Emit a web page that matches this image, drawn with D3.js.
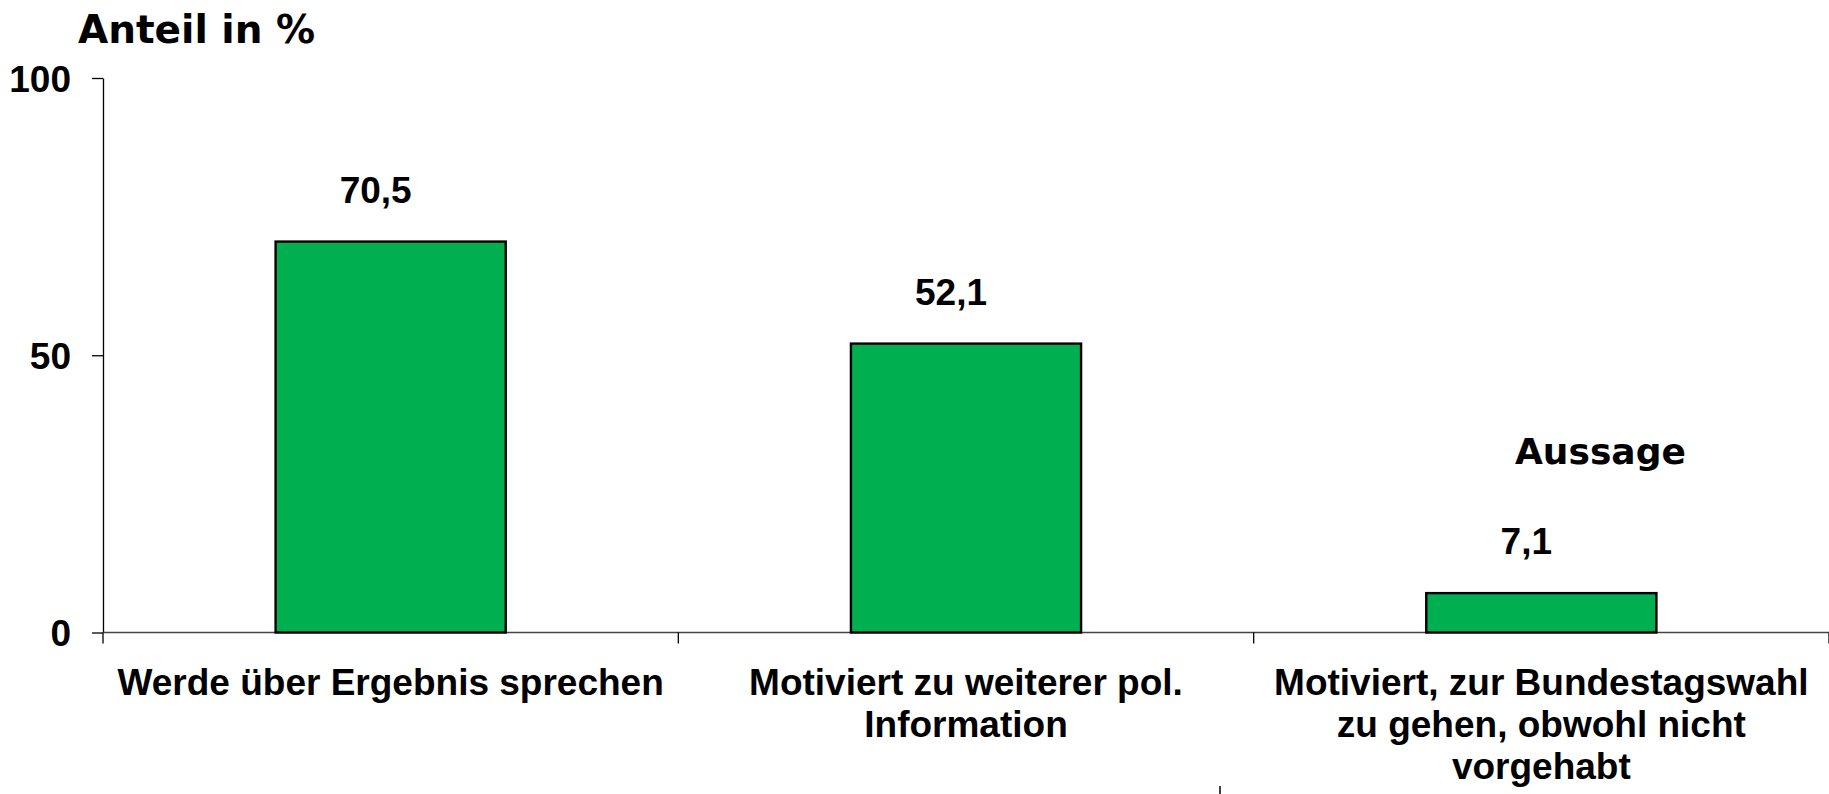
<!DOCTYPE html>
<html>
<head>
<meta charset="utf-8">
<script src="https://cdn.jsdelivr.net/npm/d3@7"></script>
<style>
  html, body { margin: 0; padding: 0; background: #fff; }
  svg { display: block; }
  .lbl { font-family: "Liberation Sans", Arial, sans-serif; font-weight: bold; fill: #000; }
  .ttl { font-family: "DejaVu Sans", Verdana, sans-serif; font-weight: bold; fill: #000; }
</style>
</head>
<body>
<script>
const categories = [
  "Werde über Ergebnis sprechen",
  "Motiviert zu weiterer pol. Information",
  "Motiviert, zur Bundestagswahl zu gehen, obwohl nicht vorgehabt"
];
const values = [70.5, 52.1, 7.1];
const valueLabels = ["70,5", "52,1", "7,1"];
const yTicks = [0, 50, 100];
const yTitle = "Anteil in %";
const xTitle = "Aussage";

const W = 1829, H = 794;
const mLeft = 103, mRight = 1829, mTop = 78, mBottom = 632.5;

const svg = d3.select("body").append("svg").attr("width", W).attr("height", H);

const y = d3.scaleLinear().domain([0, 100]).range([mBottom, mTop]);
const xOuter = d3.scaleBand().domain(categories).range([mLeft, mRight]).padding(0);
const xBar = d3.scaleBand().domain(categories).range([mLeft, mRight]).paddingInner(0.6).paddingOuter(0.3);

// y axis
const yAxis = svg.append("g").attr("transform", `translate(${mLeft},0)`)
  .call(d3.axisLeft(y).tickValues(yTicks).tickSize(11).tickSizeOuter(0).tickPadding(21).tickFormat(d3.format("d")));
yAxis.select(".domain").attr("stroke", "#000").attr("stroke-width", 1.3);
yAxis.selectAll(".tick line").attr("stroke", "#000").attr("stroke-width", 1.3);
yAxis.selectAll(".tick text").attr("class", "lbl").style("font-size", "37px").attr("dy", "0.36em");

// x axis line
svg.append("line").attr("x1", mLeft).attr("x2", mRight).attr("y1", y(0)).attr("y2", y(0))
  .attr("stroke", "#444").attr("stroke-width", 1.6);
// category boundary ticks
const bounds = categories.map(c => xOuter(c)).concat([xOuter(categories[categories.length - 1]) + xOuter.bandwidth()]);
svg.selectAll("line.bt").data(bounds).join("line").attr("class", "bt")
  .attr("x1", d => d).attr("x2", d => d).attr("y1", y(0)).attr("y2", y(0) + 11)
  .attr("stroke", "#000").attr("stroke-width", 1.3);

// bars
svg.selectAll("rect.bar").data(values).join("rect").attr("class", "bar")
  .attr("x", (d, i) => xBar(categories[i]))
  .attr("width", xBar.bandwidth())
  .attr("y", d => y(d))
  .attr("height", d => y(0) - y(d))
  .attr("fill", "#00AF50").attr("stroke", "#000").attr("stroke-width", 2.4);

// value labels
svg.selectAll("text.val").data(values).join("text").attr("class", "lbl val")
  .attr("x", (d, i) => xBar(categories[i]) + xBar.bandwidth() / 2)
  .attr("dx", -15)
  .attr("y", d => y(d) - 39)
  .attr("text-anchor", "middle").style("font-size", "37px")
  .text((d, i) => valueLabels[i]);

// category labels with wrapping
function wrapLines(text, width, size) {
  const ctx = document.createElement("canvas").getContext("2d");
  ctx.font = `bold ${size}px "Liberation Sans", Arial, sans-serif`;
  const words = text.split(" ");
  const lines = [];
  let cur = "";
  words.forEach(w => {
    const t = cur ? cur + " " + w : w;
    if (ctx.measureText(t).width > width && cur) { lines.push(cur); cur = w; }
    else cur = t;
  });
  if (cur) lines.push(cur);
  return lines;
}
categories.forEach((c, i) => {
  const lines = wrapLines(c, xOuter.bandwidth() - 10, 37);
  const t = svg.append("text").attr("class", "lbl").style("font-size", "37px")
    .attr("text-anchor", "middle")
    .attr("x", xOuter(c) + xOuter.bandwidth() / 2).attr("y", 695);
  lines.forEach((ln, j) => {
    t.append("tspan").attr("x", xOuter(c) + xOuter.bandwidth() / 2)
      .attr("dy", j === 0 ? 0 : 42).text(ln);
  });
});

// titles
svg.append("text").attr("class", "ttl").style("font-size", "39px")
  .attr("x", 78).attr("y", 43).text(yTitle);
svg.append("text").attr("class", "ttl").style("font-size", "36px")
  .attr("x", 1515).attr("y", 464).text(xTitle);

// small stray mark at bottom
svg.append("line").attr("x1", 1220).attr("x2", 1220).attr("y1", 786).attr("y2", 794)
  .attr("stroke", "#000").attr("stroke-width", 1.5);
</script>
</body>
</html>
